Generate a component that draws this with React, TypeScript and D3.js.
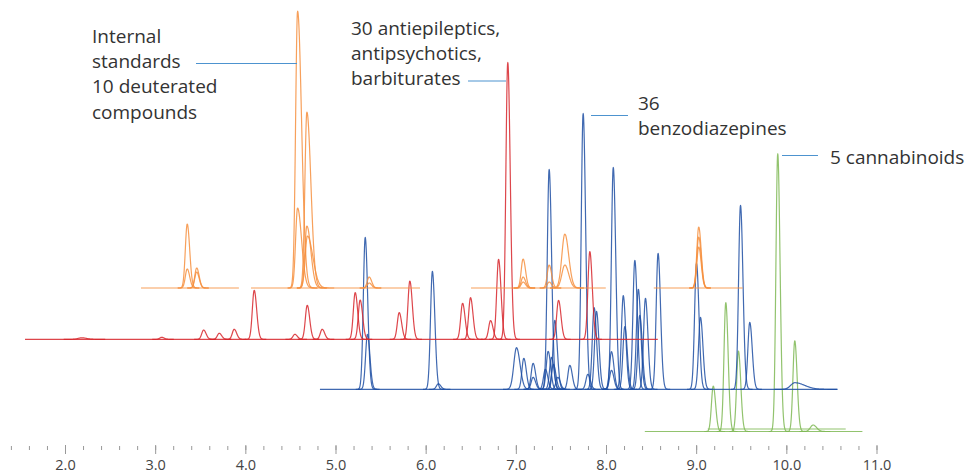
import React from 'react';
import * as d3 from 'd3';

// retention time axis
const majorTicks = [2, 3, 4, 5, 6, 7, 8, 9, 10, 11];
const minorTickStart = 1.4;
const minorTickEnd = 11.0;

// each peak: [retention time (min), height, sigma (min), tailing factor]
const orangeSegments = [[2.837, 3.923], [4.057, 5.932], [6.497, 7.992], [8.524, 9.511]];
const orangePeaks = [
	[3.350, 64], [3.350, 19], [3.455, 20], [3.455, 16],
	[4.574, 277, 0.022, 2], [4.574, 80, 0.022, 2],
	[4.677, 176, 0.022, 2], [4.677, 62, 0.022, 2], [4.683, 52, 0.024, 2.5],
	[5.368, 11], [5.368, 5],
	[7.075, 29], [7.075, 11], [7.075, 6],
	[7.364, 23], [7.364, 6],
	[7.538, 54, 0.033], [7.538, 23, 0.033],
	[9.023, 61], [9.023, 51], [9.023, 41],
];

const redSegments = [[1.551, 8.569]];
const redPeaks = [
	[2.180, 1.5, 0.04], [3.067, 2], [3.532, 9.3], [3.705, 6], [3.871, 10],
	[4.093, 49], [4.544, 5], [4.681, 34], [4.847, 10],
	[5.213, 46.7], [5.268, 39.3], [5.701, 26.7], [5.819, 58.3],
	[6.404, 36], [6.492, 41.6], [6.714, 18.7], [6.803, 80], [6.905, 277],
	[7.468, 39], [7.815, 87.7],
];

const blueSegments = [[4.822, 10.561]];
const bluePeaks = [
	[5.324, 152], [5.349, 55], [6.069, 118], [6.135, 5.5],
	[7.002, 41.6, 0.03], [7.083, 31], [7.186, 26], [7.186, 12],
	[7.322, 20], [7.353, 38], [7.364, 220], [7.390, 32], [7.411, 25], [7.427, 69], [7.460, 12],
	[7.593, 24], [7.741, 276], [7.793, 15], [7.863, 81.6], [7.889, 78],
	[8.055, 37.6], [8.055, 19], [8.075, 222],
	[8.186, 93.6], [8.203, 62.6], [8.314, 129], [8.353, 100], [8.369, 74], [8.432, 91],
	[8.572, 136], [8.998, 126], [9.042, 72], [9.486, 184], [9.589, 67],
	[10.088, 6.6, 0.045, 2.4],
];

const greenSegments = [[8.425, 10.838], [9.123, 10.653, 2.5]];
const greenPeaks = [
	[9.184, 45.5, 0.02], [9.323, 129, 0.02], [9.463, 80.5, 0.02],
	[9.899, 278, 0.02], [10.088, 90.7, 0.02], [10.291, 6.5, 0.03],
];

const groups = [
	{ name: 'green', color: '#7fb955', base: 8.5, segments: greenSegments, peaks: greenPeaks },
	{ name: 'blue', color: '#1e4fa3', base: 50.7, segments: blueSegments, peaks: bluePeaks },
	{ name: 'red', color: '#d7262c', base: 100.7, segments: redSegments, peaks: redPeaks },
	{ name: 'orange', color: '#f68f3e', base: 152, segments: orangeSegments, peaks: orangePeaks },
];

const labels = [
	{ lines: ['Internal', 'standards', '10 deuterated', 'compounds'], x: 92, y: 43, line: [196, 63.5, 297, 63.5] },
	{ lines: ['30 antiepileptics,', 'antipsychotics,', 'barbiturates'], x: 351, y: 35, line: [468, 81, 506, 81] },
	{ lines: ['36', 'benzodiazepines'], x: 638, y: 110, line: [591, 115.5, 628, 115.5] },
	{ lines: ['5 cannabinoids'], x: 830, y: 164, line: [782, 155.5, 818, 155.5] },
];

export default function App() {
	const width = 968, height = 474;

	const x = d3.scaleLinear().domain([2, 11]).range([65.5, 877]);
	const y = d3.scaleLinear().domain([0, 440]).range([440, 0]);

	const line = d3.line<[number, number]>()
		.x((d) => x(d[0]))
		.y((d) => y(d[1]))
		.curve(d3.curveMonotoneX);

	function peakPath(p, base, segs) {
		const t0 = p[0], h = p[1], s = p[2] || 0.021, tail = p[3] || 1.3;
		const lo = d3.min(segs, (d) => d[0]), hi = d3.max(segs, (d) => d[1]);
		const pts: [number, number][] = [];
		const from = Math.max(lo, t0 - 5 * s), to = Math.min(hi, t0 + 5 * s * tail);
		for (let t = from; t <= to; t += s / 8) {
			const sd = t < t0 ? s : s * tail;
			pts.push([t, base + h * Math.exp(-0.5 * ((t - t0) / sd) ** 2)]);
		}
		return line(pts);
	}

	const minorTicks = d3.range(minorTickStart, minorTickEnd + 0.001, 0.2);
	const axisY = 446;

	return (
		<svg width={width} height={height} style={{ position: 'absolute', left: 0, top: 0, background: '#fff' }}>
			{/* chromatogram traces */}
			{groups.map((g) => (
				<g key={g.name} fill="none" stroke={g.color} strokeWidth={1.2} strokeOpacity={0.85}>
					{g.segments.map((s, i) => (
						<path key={'s' + i} d={line([[s[0], g.base + (s[2] || 0)], [s[1], g.base + (s[2] || 0)]])} />
					))}
					{g.peaks.map((p, i) => (
						<path key={'p' + i} d={peakPath(p, g.base, g.segments)} />
					))}
				</g>
			))}

			{/* annotations */}
			{labels.map((l, i) => (
				<g key={i}>
					<line x1={l.line[0]} y1={l.line[1]} x2={l.line[2]} y2={l.line[3]} stroke="#4d93cf" strokeWidth={1} />
					<text x={l.x} y={l.y} fontFamily="'Open Sans', sans-serif" fontSize={19} fill="#333">
						{l.lines.map((t, j) => (
							<tspan key={j} x={l.x} dy={j === 0 ? 0 : 25.2}>{t}</tspan>
						))}
					</text>
				</g>
			))}

			{/* axis */}
			<g stroke="#999" strokeWidth={1}>
				{minorTicks.map((t, i) => (
					<line key={i} x1={x(t)} x2={x(t)} y1={axisY} y2={axisY + 4} />
				))}
				{majorTicks.map((t) => (
					<line key={'m' + t} x1={x(t)} x2={x(t)} y1={axisY - 1} y2={axisY + 8} />
				))}
			</g>
			<g fontFamily="'Open Sans', sans-serif" fontSize={14.5} fill="#444" textAnchor="middle">
				{majorTicks.map((t) => (
					<text key={t} x={x(t)} y={470}>{d3.format('.1f')(t)}</text>
				))}
			</g>
		</svg>
	);
}
